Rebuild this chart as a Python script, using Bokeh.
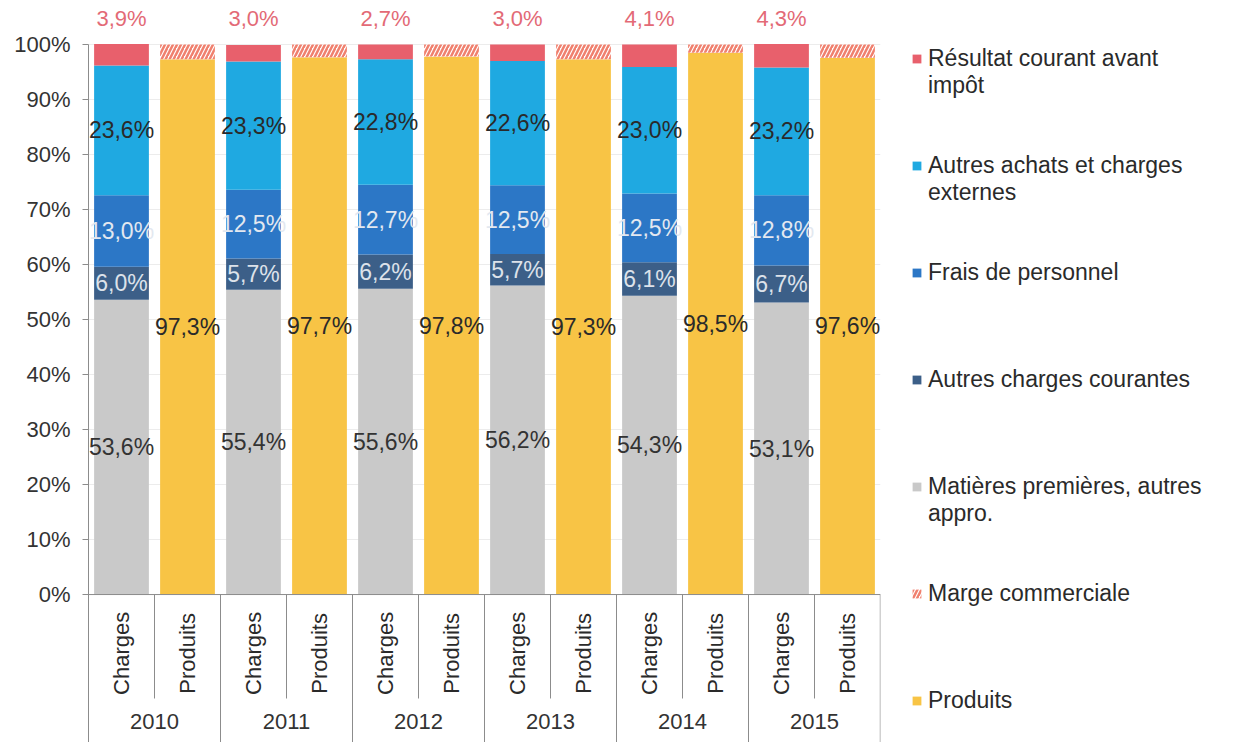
import numpy as np
from bokeh.plotting import figure
from bokeh.models import (FactorRange, Range1d, ColumnDataSource, FixedTicker,
                          NumeralTickFormatter, Span, Legend, LegendItem)
from bokeh.core.properties import value
from bokeh.embed import file_html
from bokeh.resources import INLINE

# ---------------- data ----------------
years = ["2010", "2011", "2012", "2013", "2014", "2015"]
kinds = ["Charges", "Produits"]
matieres = [53.6, 55.4, 55.6, 56.2, 54.3, 53.1]
autres_charges = [6.0, 5.7, 6.2, 5.7, 6.1, 6.7]
frais_personnel = [13.0, 12.5, 12.7, 12.5, 12.5, 12.8]
autres_achats = [23.6, 23.3, 22.8, 22.6, 23.0, 23.2]
resultat = [3.9, 3.0, 2.7, 3.0, 4.1, 4.3]
produits = [97.3, 97.7, 97.8, 97.3, 98.5, 97.6]
marge = [2.7, 2.3, 2.2, 2.7, 1.5, 2.4]
y_ticks = [0, 10, 20, 30, 40, 50, 60, 70, 80, 90, 100]

FONT = value("Liberation Sans")
FS = "23px"
C_RES = "#E8606C"
C_ACH = "#1FA9E1"
C_FRA = "#2C77C6"
C_ACC = "#3C5F88"
C_MAT = "#C9C9C9"
C_PRO = "#F8C445"
C_HATCH = "#F0806E"


def fmt(v):
    return f"{v:.1f}".replace(".", ",") + "%"


factors = [(y, k) for y in years for k in kinds]
x_range = FactorRange(*factors, factor_padding=0, group_padding=0, range_padding=0)

p = figure(x_range=x_range, y_range=Range1d(-0.269, 1.08),
           frame_width=792, frame_height=742, output_backend="svg",
           toolbar_location=None, min_border_left=88, min_border_right=0,
           min_border_top=0, min_border_bottom=0)
p.outline_line_color = None
p.xaxis.visible = False
p.xgrid.visible = False
p.ygrid.ticker = FixedTicker(ticks=[t / 100 for t in y_ticks])
p.ygrid.grid_line_color = "#ececec"

ya = p.yaxis[0]
ya.ticker = FixedTicker(ticks=[t / 100 for t in y_ticks])
ya.formatter = NumeralTickFormatter(format="0%")
ya.bounds = (-0.28, 1.0)
ya.axis_line_color = "#8c8c8c"
ya.major_tick_line_color = "#8c8c8c"
ya.major_tick_out = 6
ya.major_tick_in = 0
ya.minor_tick_line_color = None
ya.major_label_text_font = "Liberation Sans"
ya.major_label_text_font_size = "22px"
ya.major_label_text_color = "#333333"
ya.major_label_standoff = 12

# ---------------- bars ----------------
ch_x = [(y, "Charges") for y in years]
pr_x = [(y, "Produits") for y in years]
ch_src = ColumnDataSource(dict(
    x=ch_x,
    mat=np.array(matieres) / 100, acc=np.array(autres_charges) / 100,
    fra=np.array(frais_personnel) / 100, ach=np.array(autres_achats) / 100,
    res=np.array(resultat) / 100))
pr_src = ColumnDataSource(dict(x=pr_x, pro=np.array(produits) / 100))

W = 0.83
ch_r = p.vbar_stack(["mat", "acc", "fra", "ach", "res"], x="x", width=W, source=ch_src,
                    color=[C_MAT, C_ACC, C_FRA, C_ACH, C_RES], line_color=None)
r_pro = p.vbar(x="x", bottom=0, top="pro", width=W, source=pr_src,
               fill_color=C_PRO, line_color=None)
top_m = (np.array(produits) + np.array(marge)) / 100
mar_src = ColumnDataSource(dict(x=pr_x, bottom=np.array(produits) / 100, top=top_m))
r_mar = p.vbar(x="x", bottom="bottom", top="top", width=W, source=mar_src,
               fill_color="white", line_color=None, hatch_pattern="/",
               hatch_color=C_HATCH, hatch_scale=8, hatch_weight=2.5)

# ---------------- value labels ----------------
segs = [matieres, autres_charges, frais_personnel, autres_achats]
colors = ["#333333", "#DDE2EA", "#E3E8F0", "#2A2A2A"]
cum = np.zeros(len(years))
for vals, col in zip(segs, colors):
    vals = np.array(vals)
    mid = (cum + vals / 2) / 100
    cum = cum + vals
    p.text(x=ch_x, y=mid, text=[fmt(v) for v in vals], text_align="center",
           text_baseline="middle", text_font=FONT, text_font_size=FS,
           text_color=col)
p.text(x=ch_x, y=[1.047] * len(years), text=[fmt(v) for v in resultat],
       text_align="center", text_baseline="middle", text_font=FONT,
       text_font_size="22px", text_color="#E36A76")
p.text(x=pr_x, y=np.array(produits) / 200, text=[fmt(v) for v in produits],
       text_align="center", text_baseline="middle", text_font=FONT,
       text_font_size=FS, text_color="#2A2A2A")

# ---------------- category axis (drawn) ----------------
p.add_layout(Span(location=0, dimension="width", line_color="#8c8c8c", line_width=1))
long_x = [(y, "Charges", -0.5) for y in years[1:]] + [(years[-1], "Produits", 0.497)]
short_x = [(y, "Produits", -0.5) for y in years]
p.segment(x0=long_x, x1=long_x, y0=[0] * len(long_x), y1=[-0.28] * len(long_x),
          line_color="#8c8c8c", line_width=1)
p.segment(x0=short_x, x1=short_x, y0=[0] * len(short_x), y1=[-0.189] * len(short_x),
          line_color="#8c8c8c", line_width=1)
p.text(x=factors, y=[-0.107] * len(factors), text=[f[1] for f in factors],
       angle=np.pi / 2, text_align="center", text_baseline="middle",
       text_font=FONT, text_font_size="22px", text_color="#2A2A2A")
p.text(x=years, y=[-0.231] * len(years), text=years, text_align="center",
       text_baseline="middle", text_font=FONT, text_font_size="22px",
       text_color="#333333")

# ---------------- legend ----------------
B = "\u00a0"
items = [
    LegendItem(label=B + "\nRésultat courant avant\nimpôt", renderers=[ch_r[4]]),
    LegendItem(label=B + "\nAutres achats et charges\nexternes", renderers=[ch_r[3]]),
    LegendItem(label=B + "\nFrais de personnel\n" + B, renderers=[ch_r[2]]),
    LegendItem(label=B + "\nAutres charges courantes\n" + B, renderers=[ch_r[1]]),
    LegendItem(label=B + "\nMatières premières, autres\nappro.", renderers=[ch_r[0]]),
    LegendItem(label=B + "\nMarge commerciale\n" + B, renderers=[r_mar]),
    LegendItem(label=B + "\nProduits\n" + B, renderers=[r_pro]),
]
legend = Legend(items=items, location=(31, 1), margin=31, padding=0,
                spacing=26, glyph_width=11, glyph_height=11,
                label_text_font="Liberation Sans", label_text_font_size=FS,
                label_text_color="#2A2A2A", label_standoff=6,
                border_line_color=None, background_fill_alpha=0)
p.add_layout(legend, "right")

open("out.html", "w").write(file_html(p, INLINE))
